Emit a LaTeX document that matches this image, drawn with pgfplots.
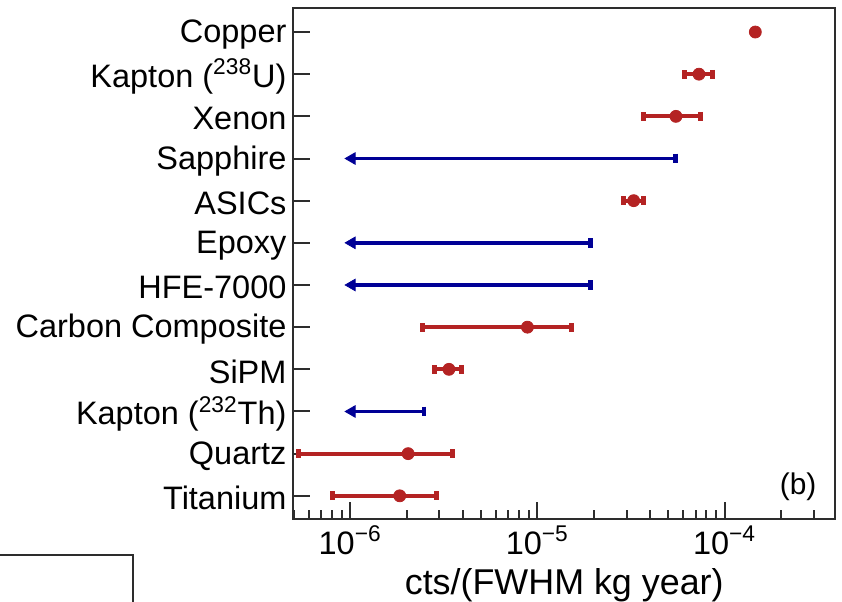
\documentclass[border=0pt]{standalone}
\usepackage{pgfplots}
\pgfplotsset{compat=1.18}
\usepackage{fontspec}
\setmainfont{Liberation Sans}
\definecolor{myred}{RGB}{180,35,35}
\definecolor{myblue}{RGB}{0,0,150}
\definecolor{axgray}{RGB}{45,45,45}
\begin{document}
\begin{tikzpicture}
\useasboundingbox (0,0) rectangle (421bp,301bp);
\draw[line width=1bp, axgray] (0,23.5bp) -- (66.5bp,23.5bp) -- (66.5bp,-1bp);
\begin{axis}[
  at={(146.75bp,41.5bp)}, anchor=south west,
  scale only axis, width=270.75bp, height=255.5bp,
  xmode=log, xmin=4.98e-7, xmax=3.89e-4,
  ymin=-0.55, ymax=11.57,
  ytick={0,...,11},
  yticklabels={Titanium, Quartz, Kapton (\textsuperscript{232}Th), SiPM, Carbon Composite, HFE-7000, Epoxy, ASICs, Sapphire, Xenon, Kapton (\textsuperscript{238}U), Copper},
  xtick={1e-6,1e-5,1e-4},
  xticklabels={10\textsuperscript{−6},10\textsuperscript{−5},10\textsuperscript{−4}},
  minor xtick={5e-7,6e-7,7e-7,8e-7,9e-7,2e-6,3e-6,4e-6,5e-6,6e-6,7e-6,8e-6,9e-6,2e-5,3e-5,4e-5,5e-5,6e-5,7e-5,8e-5,9e-5,2e-4,3e-4},
  tick align=inside, xtick pos=bottom, ytick pos=left,
  major tick length=8.5bp, minor tick length=4.5bp,
  axis line style={line width=1bp, axgray},
  every tick/.style={line width=1bp, axgray},
  ticklabel style={font=\fontsize{16.3}{19}\selectfont},
  yticklabel style={yshift=-1.2bp},
  xlabel={cts/(FWHM kg year)},
  xlabel style={font=\fontsize{18}{21}\selectfont},
]
\addplot[only marks, mark=*, mark size=3bp, color=myred,
  error bars/.cd, x dir=both, x explicit,
  error bar style={line width=1.9bp, myred},
  error mark options={line width=2.5bp, mark size=2.2bp, rotate=90, myred}]
  table[x=x, y=y, x error plus=ep, x error minus=em] {
  y x ep em
  11 1.46e-4 0 0
  10 7.3e-5 1.3e-5 1.2e-5
  9 5.5e-5 1.93e-5 1.83e-5
  7 3.27e-5 0.44e-5 0.40e-5
  4 8.85e-6 6.35e-6 6.43e-6
  3 3.37e-6 0.57e-6 0.54e-6
  1 2.04e-6 1.50e-6 1.51e-6
  0 1.84e-6 1.05e-6 1.04e-6
  };
\addplot[only marks, mark=|, mark size=2.4bp, color=myblue, mark options={line width=2.2bp},
  error bars/.cd, x dir=minus, x explicit, error mark=triangle*,
  error bar style={line width=1.9bp, myblue},
  error mark options={myblue, fill=myblue, mark size=3.3bp, rotate=-90}]
  table[x=x, y=y, x error minus=em] {
  y x em
  8 5.47e-5 5.37e-5
  6 1.92e-5 1.82e-5
  5 1.92e-5 1.82e-5
  2 2.48e-6 1.48e-6
  };
\node[font=\fontsize{15}{18}\selectfont] at (rel axis cs:0.932,0.063) {(b)};
\end{axis}
\end{tikzpicture}
\end{document}
